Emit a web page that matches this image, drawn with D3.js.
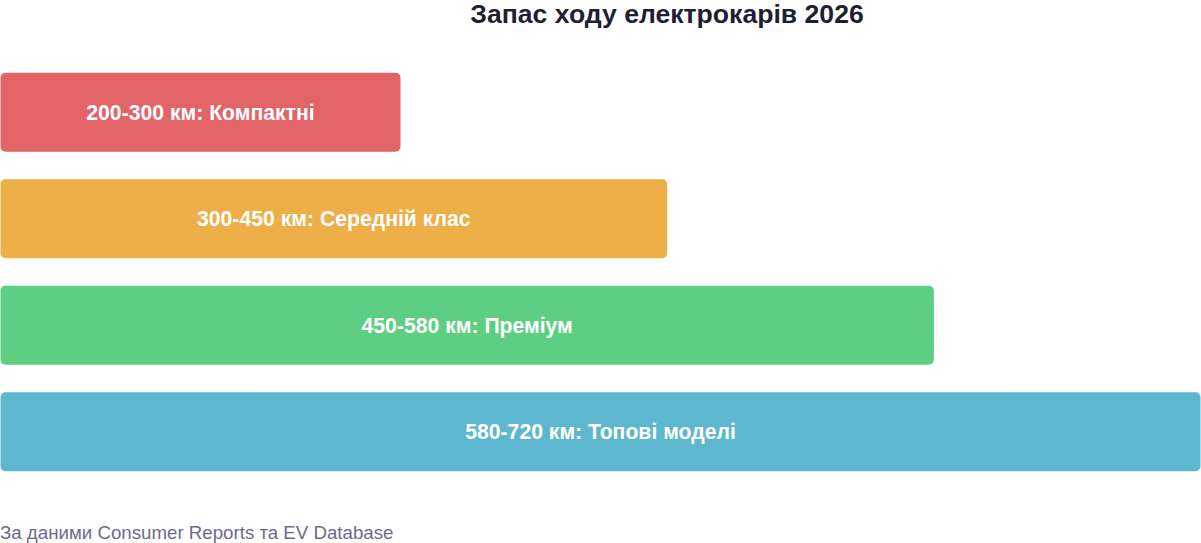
<!DOCTYPE html>
<html>
<head>
<meta charset="utf-8">
<script src="https://cdn.jsdelivr.net/npm/d3@7"></script>
<style>
html,body{margin:0;padding:0;background:#fff;}
svg{display:block;font-family:"Liberation Sans",Arial,sans-serif;}
</style>
</head>
<body>
<svg id="chart" width="1201" height="543"></svg>
<script>
const titleText = "Запас ходу електрокарів 2026";
const footerText = "За даними Consumer Reports та EV Database";
const categories = ["200-300 км: Компактні", "300-450 км: Середній клас", "450-580 км: Преміум", "580-720 км: Топові моделі"];
const values = [3, 5, 7, 9];
const colors = ["#e36467", "#eeae48", "#5ece82", "#5db8cf"];

const svg = d3.select("#chart");
const x = d3.scaleLinear().domain([0, d3.max(values)]).range([0.5, 1200.5]);
const y = d3.scaleBand().domain(categories).range([45, 499]).paddingInner(0.257).paddingOuter(0.26);

const data = categories.map((c, i) => ({c, v: values[i], col: colors[i]}));

svg.append("text").attr("x", 667).attr("y", 23).attr("text-anchor", "middle")
  .attr("font-size", 26.6).attr("font-weight", "bold").attr("fill", "#1f1e33").text(titleText);

const g = svg.append("g");
g.selectAll("rect").data(data).join("rect")
  .attr("x", x(0)).attr("y", d => y(d.c))
  .attr("width", d => x(d.v) - x(0)).attr("height", y.bandwidth())
  .attr("rx", 5).attr("ry", 5).attr("fill", d => d.col);

g.selectAll("text.lbl").data(data).join("text").attr("class", "lbl")
  .attr("x", d => (x(0) + x(d.v)) / 2).attr("y", d => y(d.c) + y.bandwidth() / 2)
  .attr("dy", "0.35em").attr("text-anchor", "middle")
  .attr("font-size", 21.2).attr("font-weight", "bold").attr("fill", "#ffffff").text(d => d.c);

svg.append("text").attr("x", 0).attr("y", 539).attr("font-size", 18.7)
  .attr("fill", "#6e6a8a").text(footerText);
</script>
</body>
</html>
